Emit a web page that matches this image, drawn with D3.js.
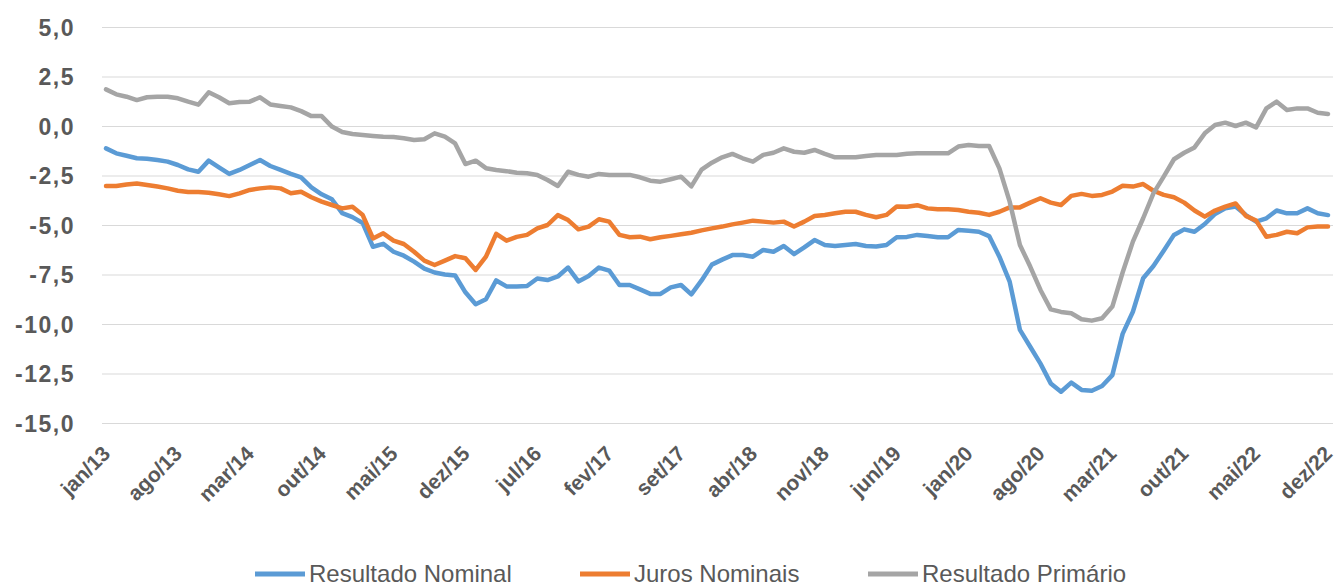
<!DOCTYPE html>
<html>
<head>
<meta charset="utf-8">
<script src="https://cdn.jsdelivr.net/npm/d3@7"></script>
<style>
  body { margin: 0; background: #ffffff; }
  svg { display: block; }
</style>
</head>
<body>
<div id="chart"></div>
<script>
// month names used to build the category axis (jan/13 .. dez/22)
var monthNames = ["jan", "fev", "mar", "abr", "mai", "jun", "jul", "ago", "set", "out", "nov", "dez"];
var months = [];
for (var yr = 13; yr <= 22; yr++) {
    for (var m = 0; m < 12; m++) {
        months.push(monthNames[m] + "/" + yr);
    }
}

var tickLabels = ["jan/13", "ago/13", "mar/14", "out/14", "mai/15", "dez/15", "jul/16", "fev/17", "set/17",
    "abr/18", "nov/18", "jun/19", "jan/20", "ago/20", "mar/21", "out/21", "mai/22", "dez/22"];

var yTicks = [5, 2.5, 0, -2.5, -5, -7.5, -10, -12.5, -15];

var resultadoNominal = [
    -1.13, -1.38, -1.50, -1.63, -1.65, -1.72, -1.80, -1.97, -2.19, -2.31, -1.75, -2.09,
    -2.42, -2.22, -1.97, -1.72, -2.02, -2.22, -2.42, -2.59, -3.10, -3.45, -3.70, -4.40,
    -4.60, -4.90, -6.10, -5.95, -6.35, -6.55, -6.85, -7.20, -7.40, -7.50, -7.55, -8.40,
    -9.00, -8.75, -7.80, -8.10, -8.10, -8.08, -7.70, -7.78, -7.60, -7.15, -7.85, -7.58,
    -7.15, -7.30, -8.03, -8.03, -8.25, -8.48, -8.48, -8.15, -8.03, -8.50, -7.80, -7.00,
    -6.75, -6.52, -6.52, -6.60, -6.26, -6.35, -6.06, -6.47, -6.13, -5.76, -6.01, -6.06,
    -6.01, -5.96, -6.06, -6.09, -6.01, -5.62, -5.60, -5.50, -5.56, -5.62, -5.62, -5.25,
    -5.29, -5.34, -5.56, -6.60, -7.86, -10.30, -11.15, -12.00, -13.00, -13.42, -12.96, -13.33,
    -13.37, -13.13, -12.58, -10.50, -9.38, -7.69, -7.07, -6.30, -5.50, -5.22, -5.34, -4.95,
    -4.44, -4.16, -4.07, -4.50, -4.83, -4.66, -4.27, -4.41, -4.41, -4.16, -4.41, -4.50
];

var jurosNominais = [
    -3.03, -3.03, -2.95, -2.90, -2.98, -3.06, -3.15, -3.27, -3.33, -3.33, -3.37, -3.45,
    -3.54, -3.40, -3.23, -3.15, -3.10, -3.15, -3.40, -3.32, -3.60, -3.82, -3.99, -4.16,
    -4.08, -4.50, -5.68, -5.42, -5.79, -5.96, -6.35, -6.80, -7.02, -6.80, -6.57, -6.68,
    -7.27, -6.60, -5.45, -5.79, -5.60, -5.50, -5.17, -5.00, -4.50, -4.75, -5.22, -5.08,
    -4.71, -4.83, -5.50, -5.62, -5.59, -5.72, -5.62, -5.55, -5.47, -5.39, -5.27, -5.17,
    -5.08, -4.97, -4.88, -4.78, -4.83, -4.88, -4.83, -5.08, -4.83, -4.55, -4.49, -4.41,
    -4.33, -4.33, -4.49, -4.61, -4.49, -4.07, -4.08, -4.00, -4.16, -4.21, -4.21, -4.24,
    -4.33, -4.38, -4.49, -4.33, -4.11, -4.11, -3.87, -3.65, -3.87, -3.99, -3.53, -3.43,
    -3.53, -3.48, -3.31, -3.02, -3.06, -2.93, -3.27, -3.48, -3.60, -3.87, -4.27, -4.58,
    -4.27, -4.07, -3.91, -4.54, -4.78, -5.59, -5.50, -5.34, -5.42, -5.12, -5.08, -5.08
];

var resultadoPrimario = [
    1.85, 1.60, 1.48, 1.31, 1.45, 1.48, 1.48, 1.40, 1.23, 1.08, 1.70, 1.45,
    1.15, 1.21, 1.23, 1.45, 1.09, 1.01, 0.94, 0.75, 0.50, 0.50, -0.03, -0.30,
    -0.40, -0.45, -0.50, -0.54, -0.56, -0.62, -0.71, -0.67, -0.37, -0.54, -0.88, -1.92,
    -1.75, -2.13, -2.22, -2.28, -2.36, -2.39, -2.47, -2.73, -3.03, -2.31, -2.47, -2.56,
    -2.42, -2.47, -2.47, -2.47, -2.59, -2.76, -2.81, -2.69, -2.56, -3.05, -2.20, -1.85,
    -1.58, -1.41, -1.63, -1.80, -1.46, -1.35, -1.13, -1.30, -1.35, -1.21, -1.41, -1.58,
    -1.58, -1.58, -1.52, -1.46, -1.46, -1.46, -1.40, -1.38, -1.38, -1.38, -1.38, -1.04,
    -0.96, -1.01, -1.01, -2.14, -3.82, -6.01, -7.10, -8.28, -9.26, -9.39, -9.46, -9.76,
    -9.83, -9.71, -9.12, -7.40, -5.84, -4.66, -3.40, -2.56, -1.68, -1.35, -1.08, -0.37,
    0.05, 0.17, 0.00, 0.17, -0.07, 0.89, 1.23, 0.81, 0.89, 0.89, 0.67, 0.61
];

var seriesNames = ["Resultado Nominal", "Juros Nominais", "Resultado Primário"];
var seriesColors = ["#5B9BD5", "#ED7D31", "#A5A5A5"];
var seriesValues = [resultadoNominal, jurosNominais, resultadoPrimario];

var width = 1335;
var height = 586;
var gridLeft = 102, gridRight = 1333;

var svg = d3.select("#chart")
    .append("svg")
    .attr("width", width)
    .attr("height", height);

svg.append("rect")
    .attr("width", width)
    .attr("height", height)
    .attr("fill", "#ffffff");

var xScale = d3.scalePoint()
    .domain(months)
    .range([106, 1328]);

var yScale = d3.scaleLinear()
    .domain([-15, 5])
    .range([423, 27]);

// y axis with gridlines
var leftAxis = d3.axisLeft(yScale)
    .tickValues(yTicks)
    .tickSize(-(gridRight - gridLeft))
    .tickPadding(27)
    .tickFormat(function(d) { return d3.format(".1f")(d).replace(".", ",").replace("−", "-"); });

var yAxis = svg.append("g")
    .attr("transform", "translate(" + gridLeft + ",0)")
    .call(leftAxis);
yAxis.select(".domain").remove();
yAxis.selectAll(".tick line")
    .attr("stroke", "#d9d9d9")
    .attr("stroke-width", 1.2);
yAxis.selectAll(".tick text")
    .attr("fill", "#595959")
    .attr("font-family", "'Liberation Sans', Arial, sans-serif")
    .attr("font-weight", "bold")
    .attr("font-size", "23px")
    .attr("letter-spacing", "1.5px")
    .attr("dy", "0.36em");

// x axis, rotated labels
var bottomAxis = d3.axisBottom(xScale)
    .tickValues(tickLabels)
    .tickSize(0);

var xAxis = svg.append("g")
    .attr("transform", "translate(0,423)")
    .call(bottomAxis);
xAxis.select(".domain").remove();
xAxis.selectAll(".tick text")
    .attr("x", 0)
    .attr("y", 0)
    .attr("dy", null)
    .attr("text-anchor", "end")
    .attr("transform", "translate(5,32) rotate(-45)")
    .attr("fill", "#595959")
    .attr("font-family", "'Liberation Sans', Arial, sans-serif")
    .attr("font-weight", "bold")
    .attr("font-size", "21px");

// lines
var line = d3.line()
    .x(function(d, i) { return xScale(months[i]); })
    .y(function(d) { return yScale(d); });

svg.selectAll("path.series")
    .data(seriesValues)
    .enter()
    .append("path")
    .attr("class", "series")
    .attr("d", function(d) { return line(d); })
    .attr("fill", "none")
    .attr("stroke", function(d, i) { return seriesColors[i]; })
    .attr("stroke-width", 4.5)
    .attr("stroke-linejoin", "round")
    .attr("stroke-linecap", "round");

// legend
var legendX = [255, 580, 868];
var legend = svg.selectAll("g.legend")
    .data(seriesNames)
    .enter()
    .append("g")
    .attr("class", "legend")
    .attr("transform", function(d, i) { return "translate(" + legendX[i] + ",574)"; });

legend.append("line")
    .attr("x1", 0)
    .attr("x2", 50)
    .attr("y1", 0)
    .attr("y2", 0)
    .attr("stroke", function(d, i) { return seriesColors[i]; })
    .attr("stroke-width", 5);

legend.append("text")
    .attr("x", 54)
    .attr("y", 8)
    .text(function(d) { return d; })
    .attr("fill", "#595959")
    .attr("font-family", "'Liberation Sans', Arial, sans-serif")
    .attr("font-size", "24px");
</script>
</body>
</html>
